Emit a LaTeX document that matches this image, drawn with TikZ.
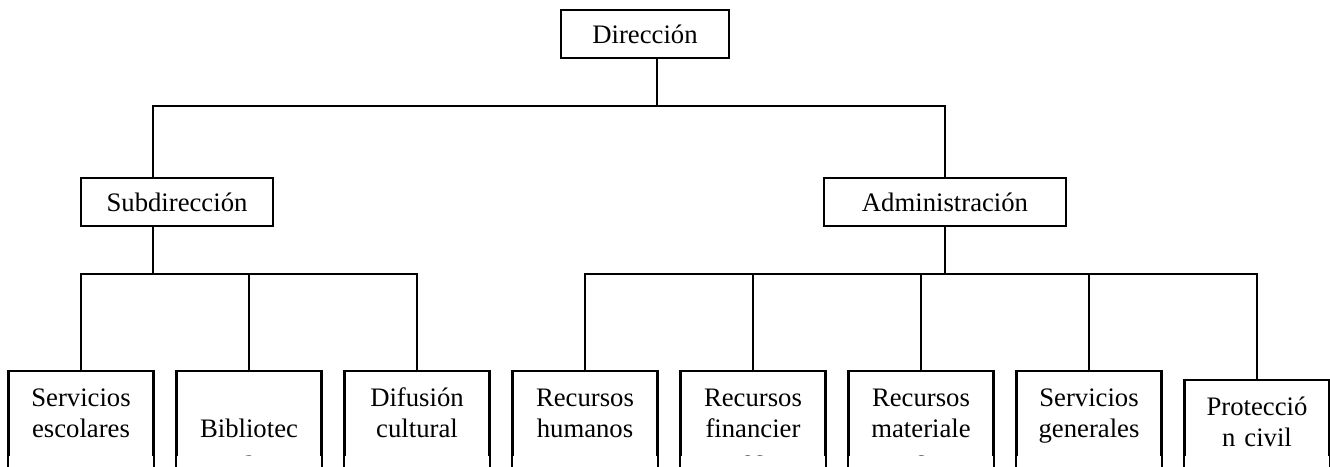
\documentclass[tikz,border=0pt]{standalone}
\usepackage{fontspec}
\setmainfont{Liberation Serif}
\begin{document}
\begin{tikzpicture}[x=1pt,y=-1pt,
  topbox/.style={draw, line width=1.8pt, minimum height=48pt, inner sep=2pt,
    font=\fontsize{26.7}{31}\selectfont},
  leaf/.style={draw, line width=1.8pt, anchor=north, text width=130pt, inner xsep=7pt,
    inner ysep=14.3pt, align=center, font=\fontsize{26.7}{31}\selectfont},
  conn/.style={draw, line width=1.8pt}]
\useasboundingbox (0,0) rectangle (1330,466);
\clip (0,0) rectangle (1330,466);
% top levels
\node[topbox, minimum width=168pt] (dir) at (645,34) {Dirección};
\node[topbox, minimum width=192pt] (sub) at (177,202) {Subdirección};
\node[topbox, minimum width=242pt] (adm) at (945,202) {Administración};
% leaves (text boxes clip their text a little above the page edge)
\begin{scope}
\clip (0,0) rectangle (1330,455.5);
\node[leaf] (se)  at (81,370)    {\strut Servicios\\escolares\\~\\~};
\node[leaf] (bib) at (249,370)   {\strut~\\Bibliotec\\a\\~};
\node[leaf] (dif) at (417,370)   {\strut Difusión\\cultural\\~\\~};
\node[leaf] (rh)  at (585,370)   {\strut Recursos\\humanos\\~\\~};
\node[leaf] (rf)  at (753,370)   {\strut Recursos\\financier\\os\\~};
\node[leaf] (rm)  at (921,370)   {\strut Recursos\\materiale\\s\\~};
\node[leaf] (sg)  at (1089,370)  {\strut Servicios\\generales\\~\\~};
\node[leaf] (pc)  at (1257,379)  {\strut Protecció\\n civil\\~\\~};
\end{scope}
\foreach \n in {se,bib,dif,rh,rf,rm,sg,pc}{
  \draw[conn] (\n.north west) -- (\n.south west);
  \draw[conn] (\n.north east) -- (\n.south east);
}
% junctions
\coordinate (j0) at (657,106);
\coordinate (s0) at (153,106);
\coordinate (s1) at (153,274);
% connectors
\draw[conn] (j0 |- dir.south) -- (j0);
\draw[conn] (s0 |- sub.north) -- (s0) -- (adm.north |- s0) -- (adm.north);
\draw[conn] (s1 |- sub.south) -- (s1);
\draw[conn] (se.north) -- (se.north |- s1) -- (dif.north |- s1) -- (dif.north);
\draw[conn] (bib.north) -- (bib.north |- s1);
\draw[conn] (adm.south) -- (adm.south |- s1);
\draw[conn] (rh.north) -- (rh.north |- s1) -- (pc.north |- s1) -- (pc.north);
\draw[conn] (rf.north) -- (rf.north |- s1);
\draw[conn] (rm.north) -- (rm.north |- s1);
\draw[conn] (sg.north) -- (sg.north |- s1);
\end{tikzpicture}
\end{document}
